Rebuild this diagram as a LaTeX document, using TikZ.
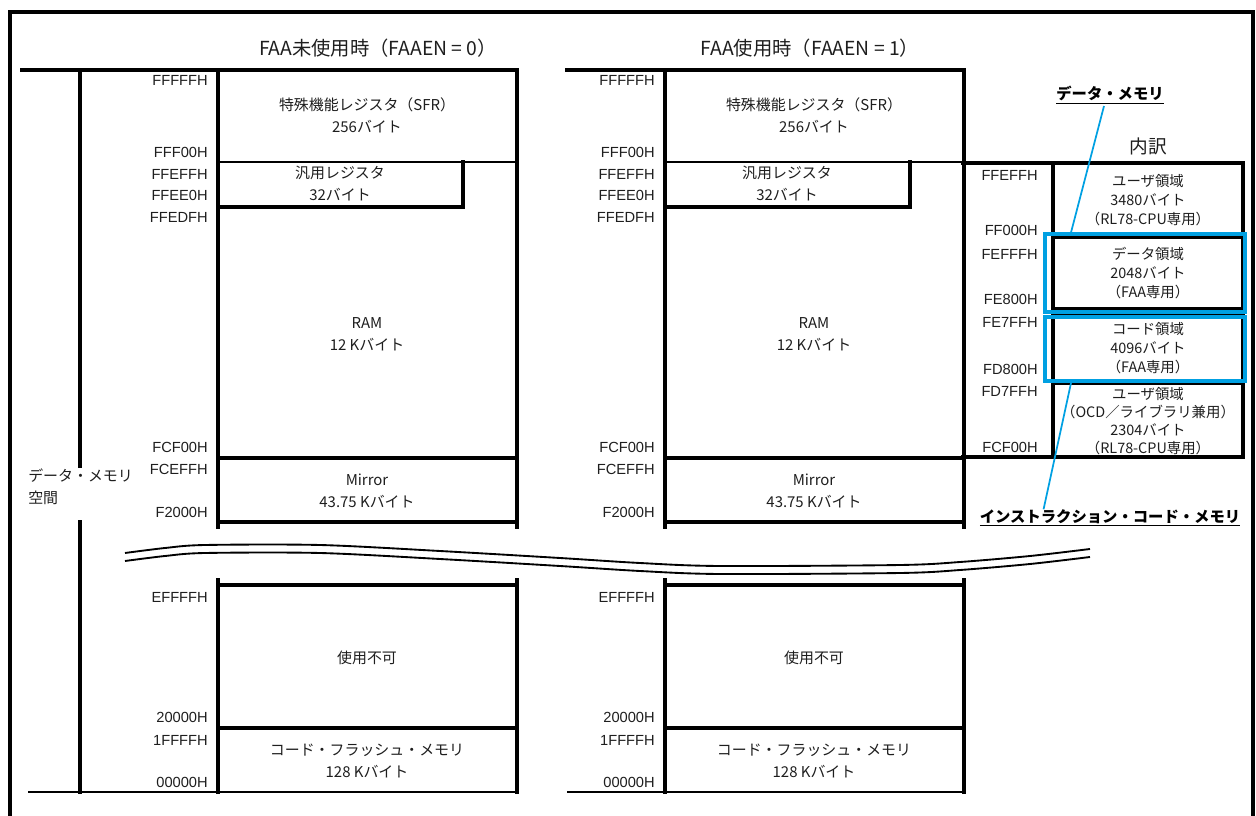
\documentclass[tikz,border=0pt]{standalone}
\usepackage{fontspec}
\setmainfont{Noto Sans CJK JP}
\newfontfamily\lat{Liberation Sans}
\usetikzlibrary{calc}
\definecolor{fblue}{RGB}{0,160,226}
\definecolor{txt}{RGB}{30,30,30}
\tikzset{
  thk/.style={line width=2.5pt, line cap=rect},
  thn/.style={line width=1.5pt},
  addr/.style={font=\lat\fontsize{11}{13}\selectfont, anchor=east, inner sep=0pt, text=txt},
  btxt/.style={font=\fontsize{11.2}{16.5}\selectfont, align=center, inner sep=0pt, text=txt},
  ttxt/.style={font=\fontsize{10.8}{14}\selectfont, align=center, inner sep=0pt, text=txt},
  ttl/.style={font=\fontsize{14.5}{17}\selectfont, inner sep=0pt, text=txt},
  bluebox/.style={draw=fblue, line width=3pt, minimum width=200*0.75pt, inner sep=0pt},
  bluelink/.style={draw=fblue, line width=1.3pt},
  hdr/.style={font=\bfseries\fontsize{11.5}{14}\selectfont, inner sep=0pt},
  wave/.style={line width=1.4pt}
}
\begin{document}
\begin{tikzpicture}[x=0.75pt,y=-0.75pt]
\useasboundingbox (0,0) rectangle (1256,816);
% outer frame
\draw[line width=2.4pt] (10,820) -- (10,12) -- (1253,12) -- (1253,820);

% titles
\node[ttl] (t1) at (378,48) {FAA未使用時（FAAEN = 0）};
\node[ttl] (t2) at (810,48) {FAA使用時（FAAEN = 1）};

% two memory maps
\foreach \p/\dx in {a/0,b/447}{
\begin{scope}[shift={(\dx,0)}, name prefix=\p-]
  \draw[thk] (120,70) -- (517,70);
  \draw[thk] (218,70) -- (218,527);
  \draw[thk] (517,70) -- (517,527);
  \draw[thn] (218,162) -- (517,162);
  \draw[thk] (218,207) -- (463,207) -- (463,162);
  \draw[thk] (218,458) -- (517,458);
  \draw[thk] (218,522) -- (517,522);
  \draw[thk] (218,580) -- (218,792);
  \draw[thk] (517,580) -- (517,792);
  \draw[thk] (218,585) -- (517,585);
  \draw[thk] (218,728) -- (517,728);
  \draw[thn] (120,792) -- (517,792);
  % addresses
  \node[addr] (ad1) at (208,80) {FFFFFH};
  \node[addr] (ad2) at (208,152) {FFF00H};
  \node[addr] (ad3) at (208,174) {FFEFFH};
  \node[addr] (ad4) at (208,195) {FFEE0H};
  \node[addr] (ad5) at (208,217) {FFEDFH};
  \node[addr] (ad6) at (208,447) {FCF00H};
  \node[addr] (ad7) at (208,469) {FCEFFH};
  \node[addr] (ad8) at (208,512) {F2000H};
  \node[addr] (ad9) at (208,597) {EFFFFH};
  \node[addr] (ad10) at (208,717) {20000H};
  \node[addr] (ad11) at (208,740) {1FFFFH};
  \node[addr] (ad12) at (208,782) {00000H};
  % region texts
  \node[btxt] (sfr) at (367,115) {特殊機能レジスタ（SFR）\\256バイト};
  \node[btxt] (gr) at (340,184) {汎用レジスタ\\32バイト};
  \node[btxt] (ram) at (367,334) {RAM\\12 Kバイト};
  \node[btxt] (mir) at (367,491) {Mirror\\43.75 Kバイト};
  \node[btxt] (na) at (367,658) {使用不可};
  \node[btxt] (cf) at (367,761) {コード・フラッシュ・メモリ\\128 Kバイト};
\end{scope}
}
% left axis
\draw[thk] (22,70) -- (120,70);
\draw[thn] (28,792) -- (120,792);
\draw[thk] (80,70) -- (80,466);
\draw[thk] (80,522) -- (80,792);
\node[btxt, align=left, anchor=west] (dms) at (28,487) {データ・メモリ\\空間};

% breakdown table
\node[hdr] (dm) at (1110,95) {\underline{データ・メモリ}};
\node[font=\fontsize{14}{16}\selectfont, inner sep=0pt, text=txt] (uc) at (1148,146) {内訳};
\draw[thk] (963,163) -- (1243,163) -- (1243,457) -- (963,457);
\draw[thk] (1053,163) -- (1053,457);
\draw[thk] (1053,237) -- (1243,237);
\draw[thk] (1053,309) -- (1243,309);
\draw[thk] (1053,315) -- (1243,315);
\draw[thk] (1053,383) -- (1243,383);
\node[addr] (r1) at (1038,175) {FFEFFH};
\node[addr] (r2) at (1038,230) {FF000H};
\node[addr] (r3) at (1038,254) {FEFFFH};
\node[addr] (r4) at (1038,299) {FE800H};
\node[addr] (r5) at (1038,322) {FE7FFH};
\node[addr] (r6) at (1038,369) {FD800H};
\node[addr] (r7) at (1038,391) {FD7FFH};
\node[addr] (r8) at (1038,447) {FCF00H};
\node[ttxt] (u1) at (1148,200) {ユーザ領域\\3480バイト\\（RL78-CPU専用）};
\node[ttxt] (dr) at (1148,273) {データ領域\\2048バイト\\（FAA専用）};
\node[ttxt] (cr) at (1148,348) {コード領域\\4096バイト\\（FAA専用）};
\node[ttxt, font=\fontsize{10.8}{13.6}\selectfont] (u2) at (1148,421) {ユーザ領域\\（OCD／ライブラリ兼用）\\2304バイト\\（RL78-CPU専用）};
\node[bluebox, minimum height=78*0.75pt] (dbox) at (1145,273.5) {};
\node[bluebox, minimum height=64*0.75pt] (cbox) at (1145,349) {};
\node[hdr] (icm) at (1110,518) {\underline{インストラクション・コード・メモリ}};
\draw[bluelink] ($(dm.south)+(-6,2)$) -- ($(dbox.north west)+(28,0)$);
\draw[bluelink] ($(cbox.south west)+(28,0)$) -- ($(icm.north west)+(64,0)$);

% break marks
\draw[wave] plot[smooth] coordinates {(125,553) (165,548) (205,545) (320,545) (440,551) (560,558) (640,563) (720,566) (900,565) (960,562) (1030,556) (1090,549)};
\draw[wave] plot[smooth] coordinates {(125,561) (165,556) (205,553) (320,553) (440,559) (560,566) (640,571) (720,574) (900,573) (960,570) (1030,564) (1090,557)};
\end{tikzpicture}
\end{document}
